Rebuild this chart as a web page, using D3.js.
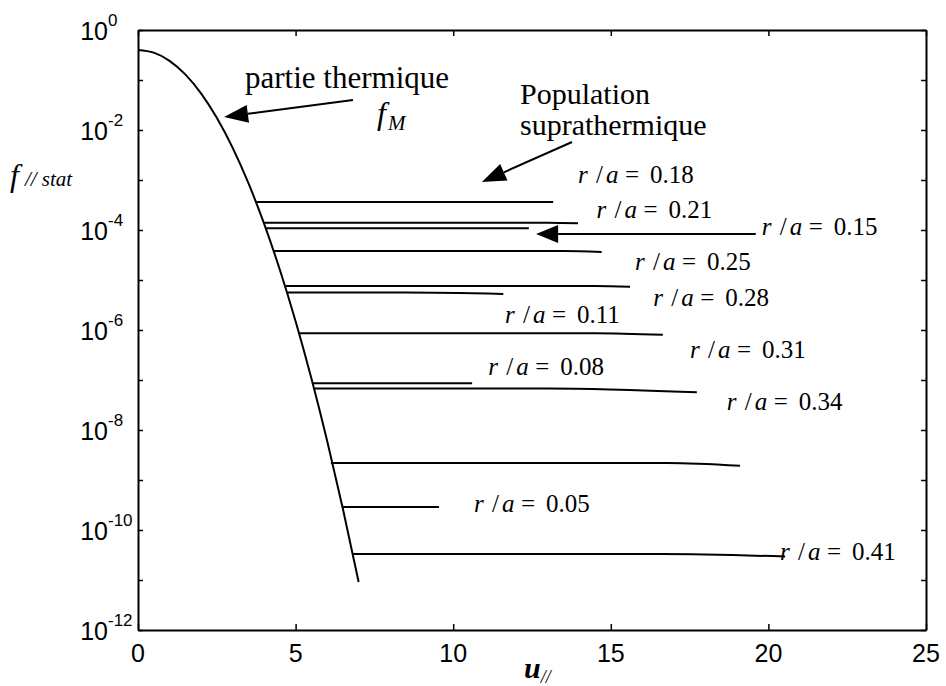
<!DOCTYPE html>
<html><head><meta charset="utf-8">
<script src="https://cdn.jsdelivr.net/npm/d3@7"></script>
<style>body{margin:0;background:#fff}svg{display:block}</style>
</head><body><svg id="c" width="946" height="686"></svg>
<script>
// ---------- data ----------
const xTicks = [0, 5, 10, 15, 20, 25];
const yLabelExps = [0, -2, -4, -6, -8, -10, -12];
const yTickExps = [0, -1, -2, -3, -4, -5, -6, -7, -8, -9, -10, -11, -12];
// thermal part f_M
const thermU = [0, 0.5, 1, 1.5, 2, 2.5, 3, 3.5, 4, 4.5, 5, 5.5, 6, 6.5, 7];
const thermF = [0.399, 0.352, 0.242, 0.1295, 0.054, 0.0175, 4.43e-3, 8.73e-4, 1.34e-4, 1.6e-5, 1.49e-6, 1.08e-7, 6.1e-9, 2.67e-10, 9.1e-12];
// suprathermal plateaus
const plateauStartU = [3.74, 3.98, 4.04, 4.31, 4.68, 4.74, 5.10, 5.54, 5.59, 6.12, 6.47, 6.81];
const plateauKneeU  = [13.0, 13.0, 12.2, 13.5, 14.5, 8.5, 14.5, 10.4, 13.0, 16.8, 9.4, 16.6];
const plateauEndU   = [13.17, 13.96, 12.40, 14.71, 15.61, 11.59, 16.65, 10.6, 17.73, 19.1, 9.55, 20.53];
const plateauF      = [3.63e-4, 1.40e-4, 1.08e-4, 3.8e-5, 7.6e-6, 5.6e-6, 8.6e-7, 8.6e-8, 6.8e-8, 2.2e-9, 2.9e-10, 3.3e-11];
const plateauEndF   = [3.63e-4, 1.36e-4, 1.08e-4, 3.65e-5, 7.3e-6, 5.25e-6, 8.0e-7, 8.6e-8, 5.7e-8, 1.93e-9, 2.9e-10, 2.95e-11];
// r/a labels (anchor in data units)
const labelText = ["0.18", "0.21", "0.15", "0.25", "0.28", "0.11", "0.31", "0.08", "0.34", "0.05", "0.41"];
const labelU = [13.96, 14.55, 19.79, 15.77, 16.35, 11.64, 17.51, 11.11, 18.68, 10.66, 20.37];
const labelF = [8.6e-4, 1.71e-4, 7.9e-5, 1.58e-5, 3.0e-6, 1.36e-6, 2.7e-7, 1.26e-7, 2.5e-8, 2.3e-10, 2.5e-11];
// annotation arrows [fromU, fromF, tipU, tipF]
const arrowThermal = [6.82, 0.040, 2.73, 0.0182];
const arrowSupra   = [13.77, 5.75e-3, 10.91, 9.1e-4];
const arrow015     = [19.6, 8.3e-5, 12.63, 8.3e-5];

// ---------- layout ----------
const svg = d3.select("#c");
const x = d3.scaleLinear().domain([0, 25]).range([138, 926]);
const y = d3.scaleLog().domain([1e-12, 1]).range([630, 30]);
const serif = "'Liberation Serif','Times New Roman',serif";
const sans = "'Liberation Sans',Arial,sans-serif";

// axes (ticks inside, MATLAB box)
const g = svg.append("g");
function styleAxis(sel) {
  sel.select(".domain").attr("stroke", "#000").attr("stroke-width", 2);
  sel.selectAll(".tick line").attr("stroke", "#000").attr("stroke-width", 1.5);
  sel.selectAll(".tick text").remove();
}
g.append("g").attr("transform", "translate(0,630)")
  .call(d3.axisBottom(x).tickValues(xTicks).tickSize(-6).tickSizeOuter(0)).call(styleAxis);
g.append("g").attr("transform", "translate(0,30)")
  .call(d3.axisTop(x).tickValues(xTicks).tickSize(-6).tickSizeOuter(0)).call(styleAxis);
g.append("g").attr("transform", "translate(138,0)")
  .call(d3.axisLeft(y).tickValues(yTickExps.map(e => Math.pow(10, e))).tickSize(-5).tickSizeOuter(0)).call(styleAxis);
g.append("g").attr("transform", "translate(926,0)")
  .call(d3.axisRight(y).tickValues(yTickExps.map(e => Math.pow(10, e))).tickSize(-5).tickSizeOuter(0)).call(styleAxis);

// tick labels
xTicks.forEach(t => {
  svg.append("text").attr("x", x(t)).attr("y", 662).attr("text-anchor", "middle")
    .attr("font-family", sans).attr("font-size", 25).text(t);
});
yLabelExps.forEach(e => {
  const yy = y(Math.pow(10, e));
  svg.append("text").attr("x", 108).attr("y", yy + 10).attr("text-anchor", "end")
    .attr("font-family", sans).attr("font-size", 25).text("10");
  svg.append("text").attr("x", 108).attr("y", yy - 4).attr("text-anchor", "start")
    .attr("font-family", sans).attr("font-size", 17).text(e === 0 ? "0" : "-" + Math.abs(e));
});

// axis titles
const yl = svg.append("text").attr("x", 10).attr("y", 186).attr("font-family", serif).attr("font-style", "italic");
yl.append("tspan").attr("font-size", 32).text("f");
yl.append("tspan").attr("font-size", 21).attr("dx", 6).text("// stat");
const xl = svg.append("text").attr("x", 524).attr("y", 678).attr("font-family", serif).attr("font-style", "italic");
xl.append("tspan").attr("font-size", 30).attr("font-weight", "bold").text("u");
xl.append("tspan").attr("font-size", 18).attr("dy", 5).text("//");

// curves
const line = d3.line().x(d => x(d[0])).y(d => y(d[1]));
svg.append("clipPath").attr("id", "plot").append("rect")
  .attr("x", 138).attr("y", 30).attr("width", 788).attr("height", 600);
const plot = svg.append("g").attr("clip-path", "url(#plot)");
plot.append("path").datum(thermU.map((u, i) => [u, thermF[i]]))
  .attr("d", line.curve(d3.curveMonotoneX)).attr("fill", "none").attr("stroke", "#000").attr("stroke-width", 2);
const pLine = d3.line().x(d => x(d[0])).y(d => y(d[1])).curve(d3.curveMonotoneX);
plateauStartU.forEach((u0, i) => {
  const pts = [[u0, plateauF[i]], [plateauKneeU[i], plateauF[i]], [plateauEndU[i], plateauEndF[i]]];
  plot.append("path").datum(pts).attr("d", pLine).attr("fill", "none")
    .attr("stroke", "#000").attr("stroke-width", 2);
});

// r/a labels
labelText.forEach((t, i) => {
  const bx = x(labelU[i]), by = y(labelF[i]);
  const parts = [["r", 0, true], ["/", 18, false], ["a", 28, true], ["=", 47, false], [t, 72, false]];
  parts.forEach(p => {
    svg.append("text").attr("x", bx + p[1]).attr("y", by).attr("font-family", serif)
      .attr("font-size", 25).attr("font-style", p[2] ? "italic" : "normal").text(p[0]);
  });
});

// arrows
function arrow(a, len, hw) {
  const x1 = x(a[0]), y1 = y(a[1]), x2 = x(a[2]), y2 = y(a[3]);
  const ang = Math.atan2(y2 - y1, x2 - x1);
  const bx = x2 - len * Math.cos(ang), by = y2 - len * Math.sin(ang);
  svg.append("line").attr("x1", x1).attr("y1", y1).attr("x2", bx).attr("y2", by)
    .attr("stroke", "#000").attr("stroke-width", 2);
  const px = -Math.sin(ang) * hw, py = Math.cos(ang) * hw;
  svg.append("polygon").attr("points", [[x2, y2], [bx + px, by + py], [bx - px, by - py]].map(p => p.join(",")).join(" "))
    .attr("fill", "#000");
}
arrow(arrowThermal, 24, 9);
arrow(arrowSupra, 24, 9);
arrow(arrow015, 22, 9);

// text annotations
svg.append("text").attr("x", 245).attr("y", 88).attr("font-family", serif).attr("font-size", 31).text("partie thermique");
const fm = svg.append("text").attr("x", 377).attr("y", 124).attr("font-family", serif).attr("font-style", "italic");
fm.append("tspan").attr("font-size", 32).text("f");
fm.append("tspan").attr("font-size", 21).attr("dy", 6).attr("dx", 2).text("M");
svg.append("text").attr("x", 520).attr("y", 104).attr("font-family", serif).attr("font-size", 30).text("Population");
svg.append("text").attr("x", 520).attr("y", 135).attr("font-family", serif).attr("font-size", 30).text("suprathermique");
</script></body></html>
